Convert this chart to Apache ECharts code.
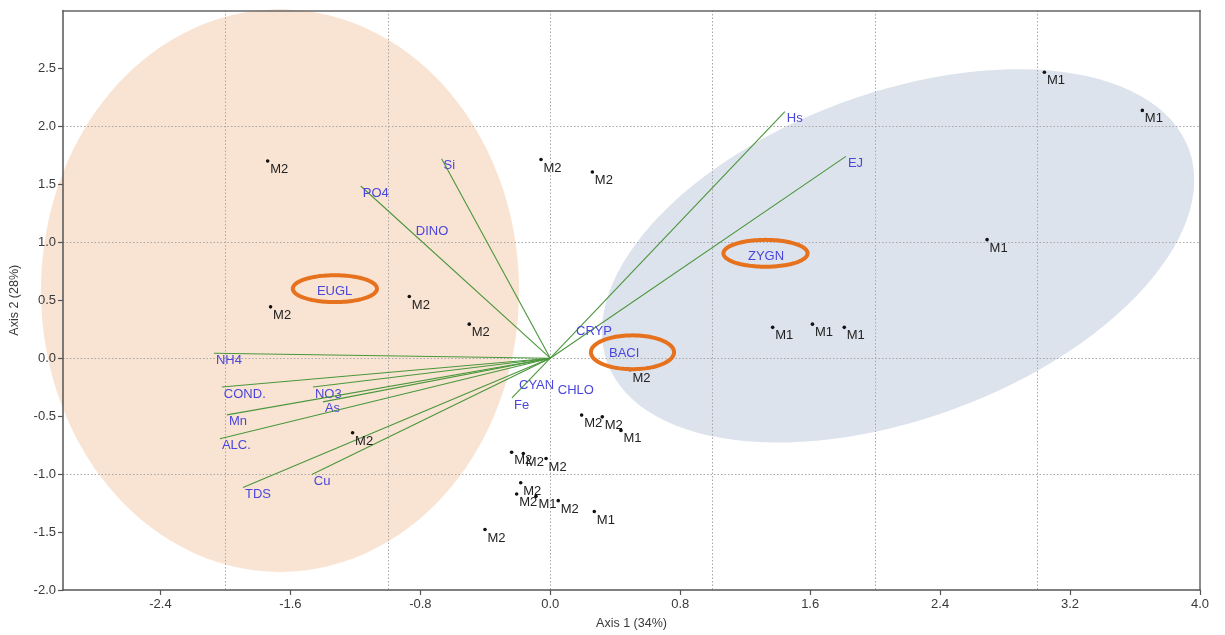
<!DOCTYPE html>
<html><head><meta charset="utf-8">
<script src="https://cdn.jsdelivr.net/npm/echarts@6/dist/echarts.min.js"></script>
<style>html,body{margin:0;padding:0;background:#fff}#c{width:1225px;height:635px}</style>
</head><body><div id="c"></div>
<script>
// ---- Sample scores (Axis 1, Axis 2) ----
const sampleX = [-1.740, -0.057, 0.259, 3.042, 3.645, 2.689, 1.369, 1.614, 1.810, -1.722, -0.868, -0.499, 0.491, -1.217, 0.193, 0.320, 0.435, -0.238, -0.166, -0.026, -0.182, -0.207, -0.088, 0.049, 0.271, -0.402];
const sampleY = [1.701, 1.715, 1.606, 2.467, 2.138, 1.023, 0.266, 0.294, 0.266, 0.443, 0.532, 0.294, -0.099, -0.643, -0.491, -0.506, -0.623, -0.812, -0.823, -0.866, -1.075, -1.172, -1.192, -1.229, -1.323, -1.478];
const sampleLabel = ['M2','M2','M2','M1','M1','M1','M1','M1','M1','M2','M2','M2','M2','M2','M2','M2','M1','M2','M2','M2','M2','M2','M1','M2','M1','M2'];

// ---- Environmental vectors (drawn from the origin) ----
const vectorNames = ['Hs','EJ','Si','PO4','NH4','COND.','NO3','As','Mn','ALC.','TDS','Cu','Fe'];
const vectorX = [1.444, 1.820, -0.669, -1.167, -2.071, -2.022, -1.461, -1.400, -1.991, -2.034, -1.892, -1.468, -0.236];
const vectorY = [2.127, 1.741, 1.721, 1.486, 0.043, -0.249, -0.249, -0.377, -0.489, -0.695, -1.115, -1.003, -0.343];

// ---- Taxa (labels only) ----
const speciesNames = ['DINO','CRYP','BACI','CYAN','CHLO','EUGL','ZYGN'];
const speciesX = [-0.840, 0.146, 0.349, -0.205, 0.034, -1.449, 1.205];
const speciesY = [1.158, 0.292, 0.103, -0.172, -0.214, 0.635, 0.935];

// ---- Group ellipses: centre and two conjugate semi-axis vectors ----
const groupCX = [-1.664, 2.141];
const groupCY = [0.583, 0.883];
const groupUX = [1.472, 1.789];
const groupUY = [0.000, 0.926];
const groupVX = [0.000, 0.352];
const groupVY = [2.427, -1.318];

// ---- Highlight rings ----
const ringNames = ['EUGL','BACI','ZYGN'];
const ringCX = [-1.326, 0.506, 1.325];
const ringCY = [0.600, 0.051, 0.905];
const ringRX = [0.259, 0.256, 0.259];
const ringRY = [0.116, 0.146, 0.116];

// ---- Tick values ----
const xTicks = [-2.4, -1.6, -0.8, 0, 0.8, 1.6, 2.4, 3.2, 4.0];
const yTicks = [-2, -1.5, -1, -0.5, 0, 0.5, 1, 1.5, 2, 2.5];

const FONT = '"Liberation Sans", Arial, sans-serif';
const groupFill = ['#f9e4d4', '#dde3ed'];

function ellipsePts(api, cx, cy, ux, uy, vx, vy) {
  const pts = [];
  const n = 120;
  for (let i = 0; i < n; i++) {
    const t = i / n * Math.PI * 2;
    const c = Math.cos(t), s = Math.sin(t);
    pts.push(api.coord([cx + ux * c + vx * s, cy + uy * c + vy * s]));
  }
  return pts;
}

const chart = echarts.init(document.getElementById('c'), null, {renderer: 'canvas'});
chart.setOption({
  animation: false,
  backgroundColor: '#fff',
  grid: {left: 63, right: 25, top: 10.5, bottom: 42, containLabel: false},
  xAxis: [{
    type: 'value', min: -3, max: 4, position: 'bottom', z: 1,
    axisLine: {show: true, onZero: false, lineStyle: {color: '#555', width: 1.5}},
    axisTick: {show: true, customValues: xTicks, length: 5, lineStyle: {color: '#555', width: 1.2}},
    axisLabel: {customValues: xTicks, formatter: v => v.toFixed(1), color: '#3a3a3a', fontSize: 13, fontFamily: FONT, margin: 8},
    splitLine: {show: false},
    name: 'Axis 1 (34%)', nameLocation: 'middle', nameGap: 27,
    nameTextStyle: {color: '#3a3a3a', fontSize: 12.5, fontFamily: FONT}
  }, {
    type: 'value', min: -3, max: 4, interval: 1, position: 'top', z: 1,
    axisLine: {show: true, onZero: false, lineStyle: {color: '#666', width: 1.5}},
    axisTick: {show: false}, axisLabel: {show: false},
    splitLine: {show: true, showMinLine: false, showMaxLine: false, lineStyle: {color: '#a8a8a8', width: 1, type: [1.5, 2]}}
  }],
  yAxis: [{
    type: 'value', min: -2, max: 3, position: 'left', z: 1,
    axisLine: {show: true, onZero: false, lineStyle: {color: '#555', width: 1.5}},
    axisTick: {show: true, customValues: yTicks, length: 5, lineStyle: {color: '#555', width: 1.2}},
    axisLabel: {customValues: yTicks, formatter: v => v.toFixed(1), color: '#3a3a3a', fontSize: 13, fontFamily: FONT, margin: 7},
    splitLine: {show: false},
    name: 'Axis 2 (28%)', nameLocation: 'middle', nameGap: 42, nameRotate: 90,
    nameTextStyle: {color: '#3a3a3a', fontSize: 12.5, fontFamily: FONT}
  }, {
    type: 'value', min: -2, max: 3, interval: 1, position: 'right', z: 1,
    axisLine: {show: true, onZero: false, lineStyle: {color: '#666', width: 1.5}},
    axisTick: {show: false}, axisLabel: {show: false},
    splitLine: {show: true, showMinLine: false, showMaxLine: false, lineStyle: {color: '#a8a8a8', width: 1, type: [1.5, 2]}}
  }],
  series: [{
    // group ellipses
    type: 'custom', z: 0, clip: false, silent: true,
    data: groupCX.map((x, i) => [x, groupCY[i], groupUX[i], groupUY[i], groupVX[i], groupVY[i]]),
    renderItem: (params, api) => ({
      type: 'polygon',
      shape: {points: ellipsePts(api, api.value(0), api.value(1), api.value(2), api.value(3), api.value(4), api.value(5))},
      style: {fill: groupFill[params.dataIndex]}
    })
  }, {
    // environmental vectors
    type: 'custom', z: 3, clip: false, silent: true,
    data: vectorX.map((x, i) => [x, vectorY[i]]),
    renderItem: (params, api) => {
      const o = api.coord([0, 0]);
      const e = api.coord([api.value(0), api.value(1)]);
      return {type: 'group', children: [
        {type: 'line', shape: {x1: o[0], y1: o[1], x2: e[0], y2: e[1]}, style: {stroke: '#4a963a', lineWidth: 1.1}},
        {type: 'text', x: e[0] + 2, y: e[1] + 7, style: {text: vectorNames[params.dataIndex], fill: '#4a46dc', font: '13px ' + FONT, align: 'left', verticalAlign: 'middle'}}
      ]};
    }
  }, {
    // taxa labels
    type: 'custom', z: 3, clip: false, silent: true,
    data: speciesX.map((x, i) => [x, speciesY[i]]),
    renderItem: (params, api) => {
      const e = api.coord([api.value(0), api.value(1)]);
      return {type: 'text', x: e[0] + 2, y: e[1] + 7, style: {text: speciesNames[params.dataIndex], fill: '#4a46dc', font: '13px ' + FONT, align: 'left', verticalAlign: 'middle'}};
    }
  }, {
    // sample points
    type: 'custom', z: 4, clip: false, silent: true,
    data: sampleX.map((x, i) => [x, sampleY[i]]),
    renderItem: (params, api) => {
      const p = api.coord([api.value(0), api.value(1)]);
      return {type: 'group', children: [
        {type: 'circle', shape: {cx: p[0], cy: p[1], r: 1.8}, style: {fill: '#111'}},
        {type: 'text', x: p[0] + 2.5, y: p[1] + 8.5, style: {text: sampleLabel[params.dataIndex], fill: '#222', font: '13px ' + FONT, align: 'left', verticalAlign: 'middle'}}
      ]};
    }
  }, {
    // highlight rings
    type: 'custom', z: 6, clip: false, silent: true,
    data: ringCX.map((x, i) => [x, ringCY[i], ringRX[i], ringRY[i]]),
    renderItem: (params, api) => ({
      type: 'polygon',
      shape: {points: ellipsePts(api, api.value(0), api.value(1), api.value(2), 0, 0, api.value(3))},
      style: {fill: 'none', stroke: '#e6721e', lineWidth: 4}
    })
  }]
});
</script>
</body></html>
